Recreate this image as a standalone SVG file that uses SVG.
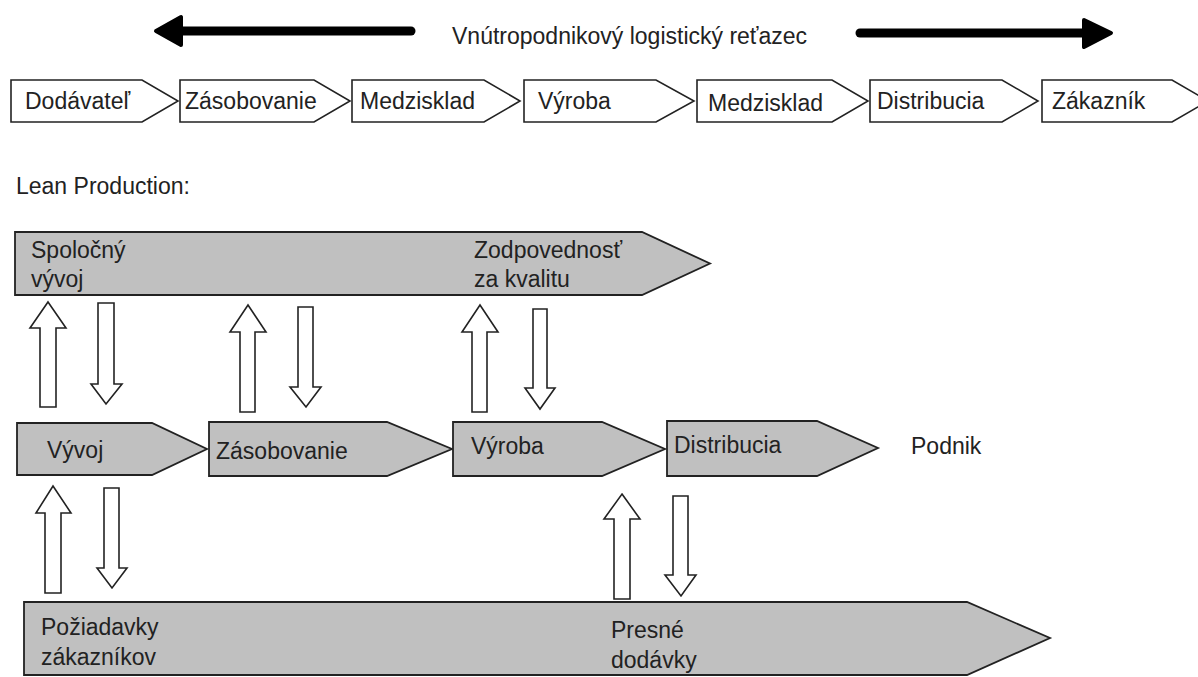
<svg xmlns="http://www.w3.org/2000/svg" width="1198" height="677" viewBox="0 0 1198 677">
  <style>
    .lbl { font-family: "Liberation Sans", Arial, sans-serif; font-size: 23px; fill: #222; }
    .chain { fill: #ffffff; stroke: #222; stroke-width: 1.6; stroke-linejoin: miter; }
    .lean { fill: #c0c0c0; stroke: #222; stroke-width: 1.8; stroke-linejoin: miter; }
    .blk { fill: #ffffff; stroke: #222; stroke-width: 1.6; stroke-linejoin: miter; }
    .bold-line { stroke: #000; stroke-width: 9; stroke-linecap: round; fill: none; }
    .bold-head { fill: #000; stroke: #000; stroke-width: 4; stroke-linejoin: round; }
  </style>
  <rect width="1198" height="677" fill="#ffffff"/>

  <!-- title of the logistics chain -->
  <g id="title">
    <text class="lbl" x="452" y="44">Vnútropodnikový logistický reťazec</text>
  </g>

  <!-- chain of process steps (white chevrons) -->
  <g id="chain-dodavatel">
    <path class="chain" d="M11,80 L142,80 L178,101 L142,122 L11,122 Z"/>
    <text class="lbl" x="25" y="109">Dodávateľ</text>
  </g>
  <g id="chain-zasobovanie">
    <path class="chain" d="M180,80 L314,80 L350,101 L314,122 L180,122 Z"/>
    <text class="lbl" x="185" y="109">Zásobovanie</text>
  </g>
  <g id="chain-medzisklad-1">
    <path class="chain" d="M352,80 L484,80 L520,101 L484,122 L352,122 Z"/>
    <text class="lbl" x="360" y="109">Medzisklad</text>
  </g>
  <g id="chain-vyroba">
    <path class="chain" d="M524,80 L656,80 L694,101 L656,122 L524,122 Z"/>
    <text class="lbl" x="538" y="109">Výroba</text>
  </g>
  <g id="chain-medzisklad-2">
    <path class="chain" d="M697,80 L832,80 L868,101 L832,122 L697,122 Z"/>
    <text class="lbl" x="708" y="111">Medzisklad</text>
  </g>
  <g id="chain-distribucia">
    <path class="chain" d="M870,80 L1002,80 L1038,101 L1002,122 L870,122 Z"/>
    <text class="lbl" x="877" y="109">Distribucia</text>
  </g>
  <g id="chain-zakaznik">
    <path class="chain" d="M1042,80 L1172,80 L1208,101 L1172,122 L1042,122 Z"/>
    <text class="lbl" x="1052" y="109">Zákazník</text>
  </g>

  <g id="lean-heading">
    <text class="lbl" x="16" y="194">Lean Production:</text>
  </g>

  <!-- upper band: joint development / quality responsibility -->
  <g id="band-top">
    <path class="lean" d="M15,232 L642,232 L710,263.5 L642,295 L15,295 Z"/>
    <text class="lbl" x="31" y="258">Spoločný</text>
    <text class="lbl" x="31" y="287">vývoj</text>
    <text class="lbl" x="474" y="258">Zodpovednosť</text>
    <text class="lbl" x="474" y="287">za kvalitu</text>
  </g>

  <!-- company process steps (grey chevrons) -->
  <g id="step-vyvoj">
    <path class="lean" d="M17,423 L152,423 L207,449 L152,475 L17,475 Z"/>
    <text class="lbl" x="47" y="458">Vývoj</text>
  </g>
  <g id="step-zasobovanie">
    <path class="lean" d="M209,422 L387,422 L452,449 L387,476 L209,476 Z"/>
    <text class="lbl" x="216" y="459">Zásobovanie</text>
  </g>
  <g id="step-vyroba">
    <path class="lean" d="M453,422 L602,422 L665,449 L602,476 L453,476 Z"/>
    <text class="lbl" x="471" y="454">Výroba</text>
  </g>
  <g id="step-distribucia">
    <path class="lean" d="M667,421 L817,421 L878,448 L817,476 L667,476 Z"/>
    <text class="lbl" x="674" y="453">Distribucia</text>
  </g>
  <g id="podnik">
    <text class="lbl" x="911" y="454">Podnik</text>
  </g>

  <!-- lower band: customer requirements / precise deliveries -->
  <g id="band-bottom">
    <path class="lean" d="M24,602 L967,602 L1050,638 L967,675 L24,675 Z"/>
    <text class="lbl" x="41" y="635">Požiadavky</text>
    <text class="lbl" x="41" y="665">zákazníkov</text>
    <text class="lbl" x="611" y="638">Presné</text>
    <text class="lbl" x="611" y="668">dodávky</text>
  </g>

  <g id="connectors">
    <!-- direction arrows of the logistics chain -->
    <line class="bold-line" x1="178" y1="31" x2="411" y2="31"/>
    <polygon class="bold-head" points="156,31 181,17 181,45"/>
    <line class="bold-line" x1="860" y1="33" x2="1088" y2="33"/>
    <polygon class="bold-head" points="1084,20 1111,33 1084,47"/>

    <!-- hollow block arrows: upward -->
    <path class="blk" d="M48,302 L66,328 L56,328 L56,407 L40,407 L40,328 L30,328 Z"/>
    <path class="blk" d="M248,305 L266,332 L255,332 L255,412 L240,412 L240,332 L230,332 Z"/>
    <path class="blk" d="M480,305 L498,332 L487,332 L487,412 L472,412 L472,332 L462,332 Z"/>
    <path class="blk" d="M53,486 L71,513 L61,513 L61,593 L45,593 L45,513 L36,513 Z"/>
    <path class="blk" d="M622,494 L640,519 L630,519 L630,599 L614,599 L614,519 L604,519 Z"/>

    <!-- hollow block arrows: downward -->
    <path class="blk" d="M98,303 L114,303 L114,384 L122,384 L106,404 L91,384 L98,384 Z"/>
    <path class="blk" d="M298,307 L313,307 L313,387 L321,387 L306,407 L290,387 L298,387 Z"/>
    <path class="blk" d="M533,309 L547,309 L547,388 L555,388 L540,409 L525,388 L533,388 Z"/>
    <path class="blk" d="M104,488 L119,488 L119,568 L127,568 L112,588 L97,568 L104,568 Z"/>
    <path class="blk" d="M673,496 L688,496 L688,575 L696,575 L681,596 L665,575 L673,575 Z"/>
  </g>
</svg>
